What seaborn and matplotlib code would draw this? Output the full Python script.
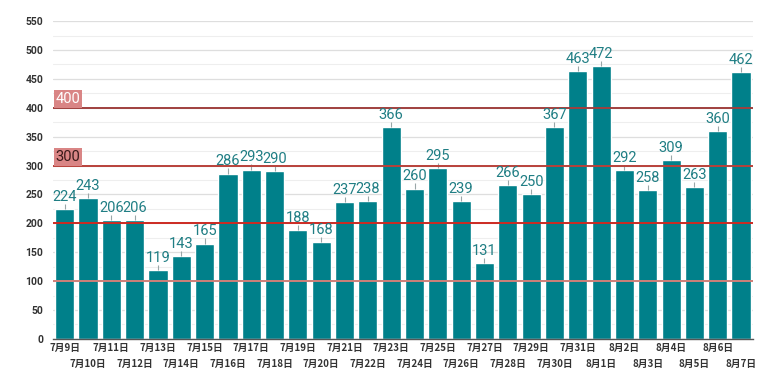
import matplotlib
matplotlib.use("Agg")
import matplotlib.pyplot as plt
import seaborn as sns
import pandas as pd
import numpy as np

dates = ["7月9日", "7月10日", "7月11日", "7月12日", "7月13日", "7月14日", "7月15日", "7月16日",
         "7月17日", "7月18日", "7月19日", "7月20日", "7月21日", "7月22日", "7月23日", "7月24日",
         "7月25日", "7月26日", "7月27日", "7月28日", "7月29日", "7月30日", "7月31日", "8月1日",
         "8月2日", "8月3日", "8月4日", "8月5日", "8月6日", "8月7日"]
cases = [224, 243, 206, 206, 119, 143, 165, 286, 293, 290, 188, 168, 237, 238, 366, 260,
         295, 239, 131, 266, 250, 367, 463, 472, 292, 258, 309, 263, 360, 462]
ref_levels = [100, 200, 300, 400]
ref_colors = ["#cf7f78", "#cc2a22", "#b8413a", "#a0403e"]
boxed_levels = ["300", "400"]

sns.set_theme(style="white")
plt.rcParams['font.family'] = ['Roboto', 'Noto Sans CJK JP', 'DejaVu Sans']

df = pd.DataFrame({"date": dates, "cases": cases})

fig = plt.figure(figsize=(7.8, 3.9), dpi=100)
ax = fig.add_axes([0.068, 0.131, 0.897, 0.815])

# horizontal gridlines
ax.set_ylim(0, 550)
ax.set_yticks(np.arange(0, 551, 50))
ax.set_yticks(np.arange(25, 551, 50), minor=True)
ax.grid(axis="y", which="major", color="#dedede", linewidth=0.9, zorder=0)
ax.grid(axis="y", which="minor", color="#eeeeee", linewidth=0.8, zorder=0)
ax.set_axisbelow(True)

sns.barplot(data=df, x="date", y="cases", color="#00808a", saturation=1,
            width=0.82, ax=ax, zorder=2)
ax.set_xlim(-0.5, len(dates) - 0.5)

# whiskers and value labels
for i, v in enumerate(cases):
    ax.vlines(i, v, v + 9, color="#9aa7a8", linewidth=0.8, zorder=3)
    ax.text(i, v + 9, str(v), ha="center", va="bottom", fontsize=10.5,
            color="#207e84", zorder=4)

# reference lines
for lvl, col in zip(ref_levels, ref_colors):
    ax.axhline(lvl, color=col, linewidth=1.4, zorder=3.5)

for lab in boxed_levels:
    lvl = float(lab)
    tc = "white" if lab == "400" else "#3a1a1a"
    ax.text(0.004, lvl + 3, lab, transform=ax.get_yaxis_transform(),
            ha="left", va="bottom", fontsize=10.5, color=tc, zorder=5,
            bbox=dict(boxstyle="square,pad=0.12", facecolor="#d98585", edgecolor="none"))

# x tick labels in two staggered rows
ax.set_xlabel("")
ax.set_ylabel("")
even = list(range(0, len(dates), 2))
odd = list(range(1, len(dates), 2))
ax.set_xticks(even)
ax.set_xticklabels([dates[i] for i in even])
ax.set_xticks(odd, minor=True)
ax.set_xticklabels([dates[i] for i in odd], minor=True)
cjk = ['Noto Sans CJK JP', 'DejaVu Sans']
for t in ax.get_xticklabels(which="both"):
    t.set_fontsize(7)
    t.set_family(cjk)
    t.set_fontweight("bold")
    t.set_color("#333333")
ax.tick_params(axis="x", which="major", length=0, pad=3)
ax.tick_params(axis="x", which="minor", length=0, pad=14.5)
ax.tick_params(axis="y", which="both", length=0, pad=7, labelsize=7.5, labelcolor="#333333")
for t in ax.get_yticklabels():
    t.set_fontweight("bold")
sns.despine(ax=ax, left=True, top=True, right=True)
ax.spines["bottom"].set_color("#555555")
ax.spines["bottom"].set_linewidth(1.0)

fig.savefig("out.png", dpi=100, facecolor="white")
